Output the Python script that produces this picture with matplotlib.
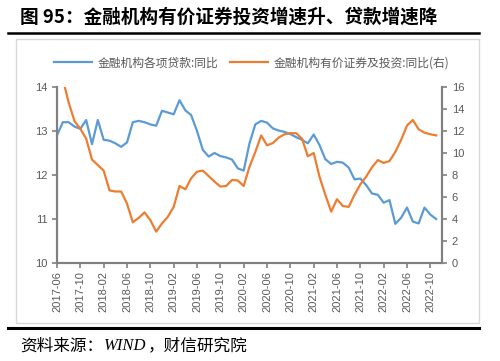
import numpy as np
import matplotlib
matplotlib.use("Agg")
import matplotlib.pyplot as plt
from matplotlib.patches import Rectangle
from matplotlib.lines import Line2D

plt.rcParams['font.family'] = ['Noto Sans CJK SC', 'DejaVu Sans']

# 月度数据 2017-06 ~ 2022-11
months = [f"{y}-{m:02d}" for y in range(2017, 2023) for m in range(1, 13)]
months = months[months.index("2017-06"):months.index("2022-11") + 1]

loans = [12.9, 13.2, 13.2, 13.1, 13.05, 13.25, 12.7, 13.25, 12.8, 12.78,
         12.72, 12.64, 12.74, 13.2, 13.23, 13.2, 13.15, 13.12, 13.46, 13.42,
         13.38, 13.7, 13.47, 13.36, 13.0, 12.57, 12.42, 12.5, 12.43, 12.4,
         12.35, 12.15, 12.1, 12.72, 13.15, 13.23, 13.19, 13.06, 13.01, 12.98,
         12.93, 12.86, 12.8, 12.72, 12.92, 12.68, 12.36, 12.25, 12.3, 12.28,
         12.17, 11.9, 11.92, 11.77, 11.58, 11.55, 11.37, 11.43, 10.89, 11.03,
         11.26, 10.94, 10.9, 11.26, 11.1, 11.0]

securities = [17.8, 16.7, 14.6, 12.9, 12.2, 11.3, 9.4, 8.9, 8.4, 6.6,
              6.5, 6.5, 5.4, 3.7, 4.1, 4.6, 3.9, 2.85, 3.6, 4.2,
              5.1, 7.0, 6.7, 7.7, 8.3, 8.4, 7.9, 7.4, 6.95, 7.0,
              7.55, 7.5, 7.0, 8.75, 10.1, 11.6, 10.7, 10.9, 11.4, 11.7,
              11.8, 11.8, 11.3, 9.7, 10.0, 7.85, 6.2, 4.67, 5.8, 5.18,
              5.1, 6.2, 7.15, 7.85, 8.7, 9.36, 9.1, 9.27, 10.1, 11.2,
              12.5, 13.0, 12.15, 11.85, 11.7, 11.6]

left_ticks = [10, 11, 12, 13, 14]
right_ticks = [0, 2, 4, 6, 8, 10, 12, 14, 16]

blue = '#5B9BD5'
orange = '#ED7D31'
spine_c = '#808080'
text_c = '#595959'
W, H = 500, 361

fig = plt.figure(figsize=(5, 3.61), dpi=100)

# 标题和分隔线
fig.text(20 / W, 1 - 17 / H, '图 95：金融机构有价证券投资增速升、贷款增速降',
         fontsize=13.4, fontweight='bold', va='center', ha='left', color='black')
fig.add_artist(Line2D([8 / W, 479 / W], [1 - 33 / H, 1 - 33 / H], color='black', lw=1.8))
fig.add_artist(Rectangle((16 / W, 1 - 323 / H), 463 / W, 284 / H, fill=False,
                         edgecolor='#D9D9D9', lw=1.0))
fig.add_artist(Line2D([8 / W, 479 / W], [1 - 328 / H, 1 - 328 / H], color='black', lw=2.2))

# 资料来源，WIND 用斜体衬线
renderer = fig.canvas.get_renderer()
parts = [('资料来源：', {}),
         ('WIND', {'family': 'Liberation Serif', 'style': 'italic'}),
         ('，财信研究院', {})]
xpos = 20
for s, kw in parts:
    t = fig.text(xpos / W, 1 - 346 / H, s, fontsize=12, va='center', ha='left',
                 color='black', **kw)
    xpos += t.get_window_extent(renderer).width + 1

ax = fig.add_axes([57 / W, 1 - 263 / H, 385 / W, 176 / H])
ax2 = ax.twinx()

x = np.arange(len(months))
ax.plot(x, loans, color=blue, lw=1.6, label='金融机构各项贷款:同比')
ax2.plot(x, securities, color=orange, lw=1.6, label='金融机构有价证券及投资:同比(右)')

ax.set_xlim(0, 66)
ax.set_ylim(10, 14)
ax2.set_ylim(0, 16)
ax.set_yticks(left_ticks)
ax2.set_yticks(right_ticks)
ax.set_xticks(x[::4])
ax.set_xticklabels(months[::4], rotation=90, family='Liberation Sans')

for a in (ax, ax2):
    a.set_facecolor('none')
    a.spines['top'].set_visible(False)
    for s in ('left', 'right', 'bottom'):
        a.spines[s].set_color(spine_c)
        a.spines[s].set_linewidth(1.5)
    a.tick_params(colors=spine_c, labelcolor=text_c, labelsize=8, length=3.5,
                  width=1.2, direction='out')
    for lab in a.get_yticklabels():
        lab.set_family('Liberation Sans')
ax.tick_params(axis='x', pad=2)

h1, l1 = ax.get_legend_handles_labels()
h2, l2 = ax2.get_legend_handles_labels()
leg = fig.legend(h1 + h2, l1 + l2, loc='center', bbox_to_anchor=(252 / W, 1 - 63 / H),
                 ncol=2, frameon=False, fontsize=8.5, handlelength=3.2,
                 columnspacing=1.0, handletextpad=0.5)
for t in leg.get_texts():
    t.set_color(text_c)

fig.savefig('out.png', dpi=100)
